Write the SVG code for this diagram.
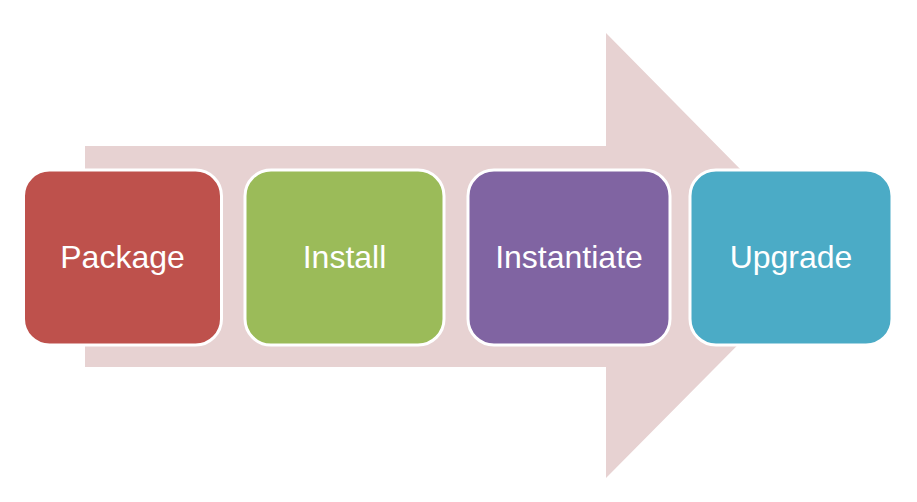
<svg xmlns="http://www.w3.org/2000/svg" width="917" height="502" viewBox="0 0 917 502">
<style>
.box{stroke:#ffffff;stroke-width:3}
.lbl{font-family:"Liberation Sans",Arial,sans-serif;font-size:32px;fill:#ffffff;text-anchor:middle}
</style>
<rect width="917" height="502" fill="#ffffff"/>
<g id="arrow">
<polygon points="85,146 606,146 606,33 826,256 606,478 606,367 85,367" fill="#e7d2d2"/>
</g>
<g id="connectors"></g>
<g id="package">
<rect class="box" x="23.5" y="170" width="198" height="175" rx="26" fill="#be514c"/>
<text class="lbl" x="122.5" y="268">Package</text>
</g>
<g id="install">
<rect class="box" x="245" y="170" width="199" height="175" rx="26" fill="#9bbb59"/>
<text class="lbl" x="344.5" y="268">Install</text>
</g>
<g id="instantiate">
<rect class="box" x="468" y="170" width="202" height="175" rx="26" fill="#8064a2"/>
<text class="lbl" x="569" y="268">Instantiate</text>
</g>
<g id="upgrade">
<rect class="box" x="690" y="170" width="202" height="175" rx="26" fill="#4babc6"/>
<text class="lbl" x="791" y="268">Upgrade</text>
</g>
</svg>
